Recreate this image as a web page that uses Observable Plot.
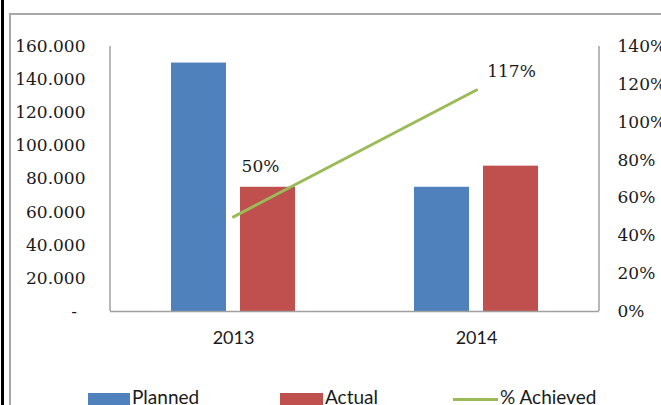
<!DOCTYPE html>
<html>
<head>
<meta charset="utf-8">
<script src="https://cdn.jsdelivr.net/npm/d3@7"></script>
<script src="https://cdn.jsdelivr.net/npm/@observablehq/plot@0.6"></script>
<style>
  html, body { margin: 0; padding: 0; background: #fff; }
  body { width: 661px; height: 405px; overflow: hidden; position: relative; }
  #blackbar { position: absolute; left: 1px; top: 0; width: 3px; height: 405px; background: #000; }
  #frame { position: absolute; left: 9px; top: 13px; width: 700px; height: 500px; border-left: 2px solid #a8a8a8; border-top: 2px solid #a8a8a8; }
  #chart { position: absolute; left: 0; top: 0; }
  .sw { position: absolute; }
  .lt { position: absolute; font-family: Lato, sans-serif; font-size: 19px; line-height: 19px; color: #1a1a1a; white-space: nowrap; }
</style>
</head>
<body>
<div id="blackbar"></div>
<div id="frame"></div>
<div id="chart"></div>
<div id="legend"></div>
<script>
// ---- data ----
const years = ["2013", "2014"];
const planned = [150000, 75000];
const actual = [75000, 87750];
const achieved = [0.50, 1.17];
const leftTicks = [0, 20000, 40000, 60000, 80000, 100000, 120000, 140000, 160000];
const rightTicks = [0, 0.2, 0.4, 0.6, 0.8, 1.0, 1.2, 1.4];
const seriesNames = ["Planned", "Actual", "% Achieved"];
const seriesColors = ["#4F81BD", "#C0504D", "#9BBB59"];

const yMax = 160000, pctMax = 1.4;
const toY = p => p / pctMax * yMax;

const plannedRows = years.map((y, i) => ({year: y, value: planned[i]}));
const actualRows = years.map((y, i) => ({year: y, value: actual[i]}));
const lineRows = years.map((y, i) => ({year: y, pct: achieved[i]}));

const loc = d3.formatLocale({decimal: ",", thousands: ".", grouping: [3], currency: ["", ""]});
const fmtLeft = v => v === 0 ? "-\u2002" : loc.format(",")(v);
const fmtPct = p => Math.round(p * 100) + "%";

const serif = "'DejaVu Serif', serif";

const chart = Plot.plot({
  width: 661,
  height: 383,
  marginLeft: 110,
  marginRight: 62,
  marginTop: 46,
  marginBottom: 72,
  style: {background: "transparent", fontFamily: serif, fontSize: "17px", color: "#1a1a1a"},
  x: {type: "band", domain: years, paddingInner: 0.49, paddingOuter: 0.25, axis: null, label: null},
  y: {domain: [0, yMax], axis: null, label: null},
  marks: [
    Plot.barY(plannedRows, {x: "year", y: "value", fill: seriesColors[0], insetRight: 69}),
    Plot.barY(actualRows, {x: "year", y: "value", fill: seriesColors[1], insetLeft: 69}),
    Plot.ruleY([0], {stroke: "#a0a0a0", strokeWidth: 1.5}),
    Plot.line(lineRows, {x: "year", y: d => toY(d.pct), stroke: seriesColors[2], strokeWidth: 3}),
    Plot.text([lineRows[0]], {x: "year", y: d => toY(d.pct), text: d => fmtPct(d.pct), dx: 27, dy: -50, fontSize: 17, fontFamily: serif, fill: "#1a1a1a"}),
    Plot.text([lineRows[1]], {x: "year", y: d => toY(d.pct), text: d => fmtPct(d.pct), dx: 35, dy: -18, fontSize: 17, fontFamily: serif, fill: "#1a1a1a"}),
    Plot.axisY({ticks: leftTicks, tickFormat: fmtLeft, tickSize: 0, tickPadding: 25, label: null, fontSize: 17, fontFamily: serif, fill: "#1a1a1a"}),
    Plot.axisY({anchor: "right", ticks: rightTicks.map(toY), tickFormat: v => fmtPct(v / yMax * pctMax), tickSize: 0, tickPadding: 18, label: null, textAnchor: "start", fontSize: 17, fontFamily: serif, fill: "#1a1a1a"}),
    Plot.axisX({tickSize: 0, tickPadding: 20, label: null, fontSize: 18, fontFamily: "Lato, sans-serif", fill: "#1a1a1a"})
  ]
});

// vertical axis lines drawn from the chart's own scales
const xr = chart.scale("x").range;
const yr = chart.scale("y").range;
const svg = d3.select(chart);
[xr[0], xr[1]].forEach(xv => {
  svg.append("line")
    .attr("x1", xv).attr("x2", xv)
    .attr("y1", yr[0]).attr("y2", yr[1])
    .attr("stroke", "#a0a0a0").attr("stroke-width", 1.5);
});

document.getElementById("chart").appendChild(chart);

// ---- legend ----
const legend = document.getElementById("legend");
const legendItems = [
  {name: seriesNames[0], color: seriesColors[0], kind: "box", left: 88, w: 42, textLeft: 132},
  {name: seriesNames[1], color: seriesColors[1], kind: "box", left: 280, w: 43, textLeft: 325},
  {name: seriesNames[2], color: seriesColors[2], kind: "line", left: 453, w: 45, textLeft: 500}
];
legendItems.forEach(it => {
  const sw = document.createElement("div");
  sw.className = "sw";
  sw.style.left = it.left + "px";
  sw.style.width = it.w + "px";
  sw.style.background = it.color;
  if (it.kind === "box") { sw.style.top = "393px"; sw.style.height = "14px"; }
  else { sw.style.top = "398px"; sw.style.height = "3px"; }
  legend.appendChild(sw);
  const t = document.createElement("div");
  t.className = "lt";
  t.style.left = it.textLeft + "px";
  t.style.top = "387px";
  t.textContent = it.name;
  legend.appendChild(t);
});
</script>
</body>
</html>
